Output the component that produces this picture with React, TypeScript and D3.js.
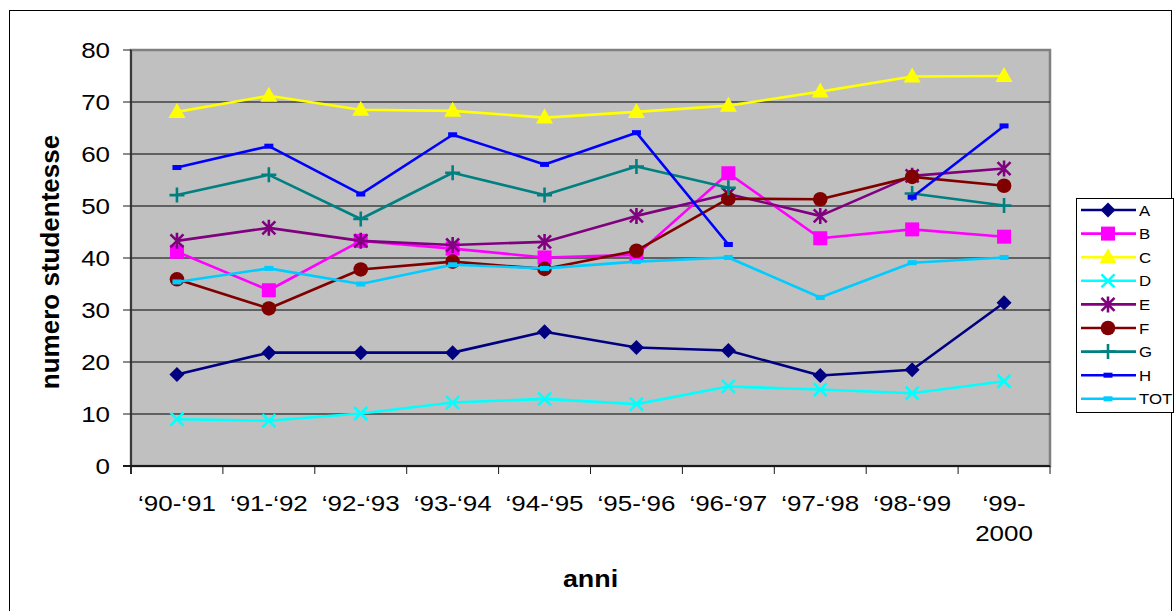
import React from "react";
import * as d3 from "d3";

// Academic years on the x axis (last label wraps onto two lines)
const years: string[][] = [
  ["\u201890-\u201891"],
  ["\u201891-\u201892"],
  ["\u201892-\u201893"],
  ["\u201893-\u201894"],
  ["\u201894-\u201895"],
  ["\u201895-\u201896"],
  ["\u201896-\u201897"],
  ["\u201897-\u201898"],
  ["\u201898-\u201899"],
  ["\u201899-", "2000"],
];

const yTicks = [0, 10, 20, 30, 40, 50, 60, 70, 80];

// Female students per faculty and year (null = no data)
const seriesA = [17.6, 21.8, 21.8, 21.8, 25.8, 22.8, 22.2, 17.4, 18.5, 31.4];
const seriesB = [41.2, 33.8, 43.3, 41.8, 40.1, 40.6, 56.3, 43.8, 45.5, 44.1];
const seriesC = [68.1, 71.2, 68.5, 68.3, 67.0, 68.1, 69.3, 72.0, 74.9, 75.0];
const seriesD = [9.0, 8.7, 10.1, 12.2, 12.9, 11.9, 15.3, 14.7, 14.0, 16.3];
const seriesE = [43.3, 45.8, 43.3, 42.5, 43.1, 48.1, 52.3, 48.1, 55.8, 57.2];
const seriesF = [35.9, 30.3, 37.8, 39.3, 37.9, 41.4, 51.4, 51.3, 55.6, 53.9];
const seriesG = [52.1, 56.0, 47.5, 56.4, 52.1, 57.6, 53.5, null, 52.4, 50.1];
const seriesH = [57.4, 61.5, 52.3, 63.7, 58.0, 64.1, 42.6, null, 51.7, 65.4];
const seriesTOT = [35.4, 38.0, 35.0, 38.7, 38.0, 39.3, 40.1, 32.4, 39.1, 40.1];

type Marker = "diamond" | "square" | "triangle" | "x" | "star" | "circle" | "plus" | "bar";

const series: { name: string; values: (number | null)[]; color: string; marker: Marker }[] = [
  { name: "A", values: seriesA, color: "#000080", marker: "diamond" },
  { name: "B", values: seriesB, color: "#FF00FF", marker: "square" },
  { name: "C", values: seriesC, color: "#FFFF00", marker: "triangle" },
  { name: "D", values: seriesD, color: "#00FFFF", marker: "x" },
  { name: "E", values: seriesE, color: "#800080", marker: "star" },
  { name: "F", values: seriesF, color: "#800000", marker: "circle" },
  { name: "G", values: seriesG, color: "#008080", marker: "plus" },
  { name: "H", values: seriesH, color: "#0000FF", marker: "bar" },
  { name: "TOT", values: seriesTOT, color: "#00CCFF", marker: "bar" },
];

const W = 1174;
const H = 611;
const plot = { left: 131, right: 1050, top: 50, bottom: 466 };
const FONT = "'Liberation Sans', Arial, Helvetica, sans-serif";
const SX = 1.18; // horizontal text stretch

function MarkerShape({ type, x, y, color }: { type: Marker; x: number; y: number; color: string }) {
  switch (type) {
    case "diamond":
      return <path d={`M${x},${y - 7.5}L${x + 7.5},${y}L${x},${y + 7.5}L${x - 7.5},${y}Z`} fill={color} />;
    case "square":
      return <rect x={x - 7} y={y - 7} width={14} height={14} fill={color} />;
    case "triangle":
      return <path d={`M${x},${y - 9}L${x + 8.5},${y + 6}L${x - 8.5},${y + 6}Z`} fill={color} />;
    case "x":
      return (
        <path
          d={`M${x - 6.5},${y - 6.5}L${x + 6.5},${y + 6.5}M${x - 6.5},${y + 6.5}L${x + 6.5},${y - 6.5}`}
          stroke={color}
          strokeWidth={2.6}
        />
      );
    case "star":
      return (
        <path
          d={`M${x - 6.5},${y - 6.5}L${x + 6.5},${y + 6.5}M${x - 6.5},${y + 6.5}L${x + 6.5},${y - 6.5}M${x},${y - 8}L${x},${y + 8}`}
          stroke={color}
          strokeWidth={2.6}
        />
      );
    case "circle":
      return <circle cx={x} cy={y} r={7.3} fill={color} />;
    case "plus":
      return (
        <path d={`M${x - 7.5},${y}L${x + 7.5},${y}M${x},${y - 7.5}L${x},${y + 7.5}`} stroke={color} strokeWidth={2.6} />
      );
    case "bar":
      return <rect x={x - 4.5} y={y - 2.5} width={9} height={5} fill={color} />;
  }
}

export default function App() {
  const x = d3
    .scaleBand<number>()
    .domain(d3.range(years.length))
    .range([plot.left, plot.right]);
  const cx = (i: number) => (x(i) as number) + x.bandwidth() / 2;
  const y = d3.scaleLinear().domain([0, 80]).range([plot.bottom, plot.top]);

  const line = d3
    .line<number | null>()
    .defined((d) => d !== null)
    .x((_, i) => cx(i))
    .y((d) => y(d as number));

  const legendX = 1076;
  const legendTop = 198;
  const legendStep = 23.6;

  return (
    <svg width={W} height={H} style={{ position: "absolute", left: 0, top: 0, background: "#fff" }}>
      {/* chart area frame */}
      <rect x={9.5} y={10.5} width={1162} height={640} fill="#fff" stroke="#000" strokeWidth={1} />

      {/* plot area */}
      <rect
        x={plot.left}
        y={plot.top}
        width={plot.right - plot.left}
        height={plot.bottom - plot.top}
        fill="#C0C0C0"
        stroke="#808080"
        strokeWidth={2.5}
      />

      {/* gridlines */}
      {yTicks
        .filter((t) => t > 0 && t < 80)
        .map((t) => (
          <line key={t} x1={plot.left} x2={plot.right} y1={y(t)} y2={y(t)} stroke="#000" strokeWidth={1} />
        ))}

      {/* axes */}
      <line x1={plot.left} x2={plot.left} y1={plot.top} y2={plot.bottom + 8} stroke="#3a3a3a" strokeWidth={2} />
      <line x1={plot.left - 8} x2={plot.right} y1={plot.bottom} y2={plot.bottom} stroke="#1a1a1a" strokeWidth={2} />
      {yTicks.map((t) => (
        <line key={t} x1={plot.left - 8} x2={plot.left} y1={y(t)} y2={y(t)} stroke="#1a1a1a" strokeWidth={1} />
      ))}
      {d3.range(years.length + 1).map((i) => {
        const xx = i < years.length ? (x(i) as number) : plot.right;
        return <line key={i} x1={xx} x2={xx} y1={plot.bottom} y2={plot.bottom + 8} stroke="#1a1a1a" strokeWidth={1} />;
      })}

      {/* y tick labels */}
      {yTicks.map((t) => (
        <g key={t} transform={`translate(${plot.left - 21},${y(t) + 8}) scale(${SX},1)`}>
          <text textAnchor="end" fontFamily={FONT} fontSize={22} fill="#000">
            {t}
          </text>
        </g>
      ))}

      {/* x tick labels */}
      {years.map((lines, i) =>
        lines.map((s, j) => (
          <g key={`${i}-${j}`} transform={`translate(${cx(i)},${511 + j * 30}) scale(${SX},1)`}>
            <text textAnchor="middle" fontFamily={FONT} fontSize={22} fill="#000">
              {s}
            </text>
          </g>
        ))
      )}

      {/* axis titles */}
      <g transform={`translate(${(plot.left + plot.right) / 2},587) scale(1.12,1)`}>
        <text textAnchor="middle" fontFamily={FONT} fontSize={24} fontWeight="bold" fill="#000">
          anni
        </text>
      </g>
      <text
        transform={`translate(59,${(plot.top + plot.bottom) / 2 + 4}) rotate(-90)`}
        textAnchor="middle"
        fontFamily={FONT}
        fontSize={26}
        fontWeight="bold"
        fill="#000"
      >
        numero studentesse
      </text>

      {/* series */}
      {series.map((s) => (
        <g key={s.name}>
          <path d={line(s.values) ?? ""} fill="none" stroke={s.color} strokeWidth={2.6} strokeLinejoin="round" />
          {s.values.map((v, i) =>
            v === null ? null : <MarkerShape key={i} type={s.marker} x={cx(i)} y={y(v)} color={s.color} />
          )}
        </g>
      ))}

      {/* legend */}
      <rect x={legendX + 0.5} y={legendTop + 0.5} width={97} height={214} fill="#fff" stroke="#000" strokeWidth={1} />
      {series.map((s, i) => {
        const ly = legendTop + 12 + i * legendStep;
        return (
          <g key={s.name}>
            <line x1={legendX + 5} x2={legendX + 60} y1={ly} y2={ly} stroke={s.color} strokeWidth={2.6} />
            <MarkerShape type={s.marker} x={legendX + 32} y={ly} color={s.color} />
            <g transform={`translate(${legendX + 63},${ly + 5.5}) scale(1.12,1)`}>
              <text fontFamily={FONT} fontSize={15} fill="#000">
                {s.name}
              </text>
            </g>
          </g>
        );
      })}
    </svg>
  );
}
